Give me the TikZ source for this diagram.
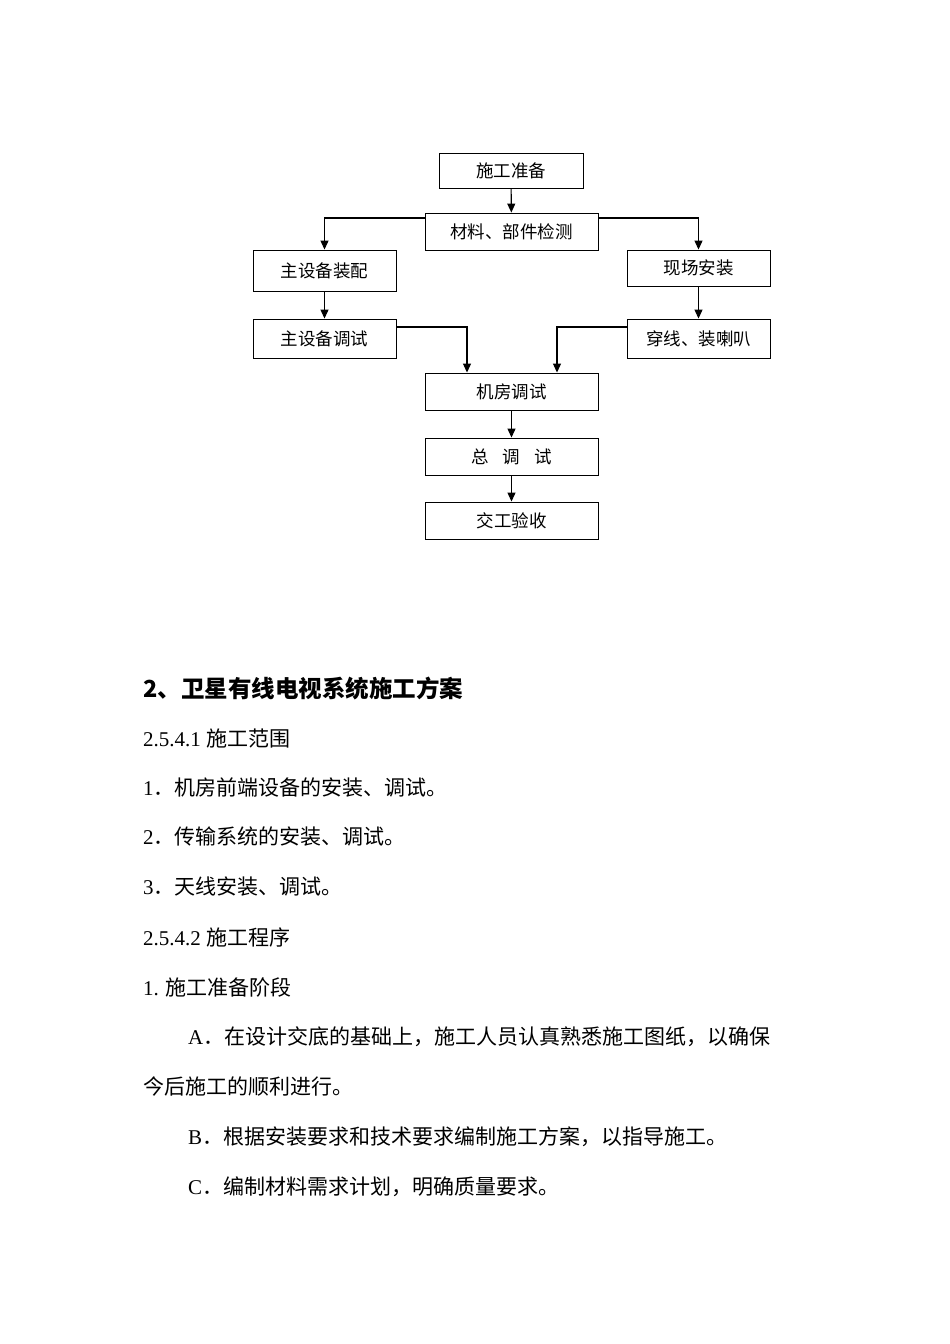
\documentclass[tikz,border=0pt]{standalone}
\usepackage{fontspec}
\setmainfont{Liberation Serif}
\newfontfamily\cjk{Noto Sans CJK SC}
\newfontfamily\cjkb{Noto Sans CJK SC Medium}
\usetikzlibrary{arrows.meta}
\begin{document}
\begin{tikzpicture}[x=1pt,y=-1pt,
  bx/.style={draw,line width=0.9pt,inner sep=0pt,font=\fontsize{17.5}{17.5}\cjk},
  ar/.style={line width=1.1pt,-{Triangle[length=9pt,width=8pt]}},
  tx/.style={anchor=west,inner sep=0pt,font=\fontsize{21}{21}\selectfont}]
\useasboundingbox[fill=white] (0,0) rectangle (950,1344);
\newcommand\bxat[6]{\node[bx,minimum width=#3-#2,minimum height=#5-#4] (#1) at ({(#2+#3)/2},{(#4+#5)/2}) {#6};}
\bxat{a}{439}{583}{153}{188}{施工准备}
\bxat{b}{425}{598}{213}{250}{材料、部件检测}
\bxat{c}{253}{396}{250}{291}{主设备装配}
\bxat{d}{627}{770}{250}{286}{现场安装}
\bxat{e}{253}{396}{319}{358}{主设备调试}
\bxat{f}{627}{770}{319}{358}{穿线、装喇叭}
\bxat{g}{425}{598}{373}{410}{机房调试}
\bxat{h}{425}{598}{438}{475}{总\hspace{0.8em}调\hspace{0.8em}试}
\bxat{i}{425}{598}{502}{539}{交工验收}
\draw[ar] (a) -- (b);
\draw[ar] (b.west|-0,218) -| (c.north);
\draw[ar] (b.east|-0,218) -| (d.north);
\draw[ar] (c) -- (e);
\draw[ar] (d) -- (f);
\draw[ar] (e.east|-0,327) -| (467,0|-g.north) coordinate (g1);
\draw[ar] (f.west|-0,327) -| (557,0|-g.north) coordinate (g2);
\draw[ar] (g) -- (h);
\draw[ar] (h) -- (i);
\node[tx,font=\fontsize{23.5}{23.5}\bfseries\cjkb] (t0) at (143,688) {2\cjk、卫星有线电视系统施工方案};
\node[tx] (t1) at (143,738) {2.5.4.1 {\cjk 施工范围}};
\node[tx] (t2) at (143,788) {1{\cjk ．机房前端设备的安装、调试。}};
\node[tx] (t3) at (143,837) {2{\cjk ．传输系统的安装、调试。}};
\node[tx] (t4) at (143,887) {3{\cjk ．天线安装、调试。}};
\node[tx] (t5) at (143,937) {2.5.4.2 {\cjk 施工程序}};
\node[tx] (t6) at (143,987) {1. {\cjk 施工准备阶段}};
\node[tx] (t7) at (188,1037) {A{\cjk ．在设计交底的基础上，施工人员认真熟悉施工图纸，以确保}};
\node[tx] (t8) at (143,1086) {\cjk 今后施工的顺利进行。};
\node[tx] (t9) at (188,1137) {B{\cjk ．根据安装要求和技术要求编制施工方案，以指导施工。}};
\node[tx] (t10) at (188,1187) {C{\cjk ．编制材料需求计划，明确质量要求。}};
\end{tikzpicture}
\end{document}
